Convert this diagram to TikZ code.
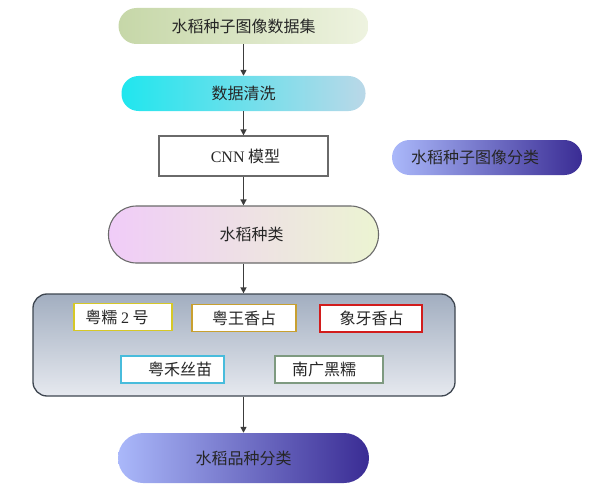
\documentclass[tikz,border=0pt]{standalone}
\usepackage{fontspec}
\setmainfont{Liberation Serif}
\newfontfamily\cjk{Noto Sans CJK SC}
\usetikzlibrary{arrows.meta}
\definecolor{arrowgray}{HTML}{3C3C3C}
\definecolor{gA}{HTML}{C6D7A8}
\definecolor{gB}{HTML}{EEF3E0}
\definecolor{cA}{HTML}{20E6EE}
\definecolor{cB}{HTML}{BAD8E8}
\definecolor{pA}{HTML}{F0CCF8}
\definecolor{pB}{HTML}{ECF4D2}
\definecolor{bA}{HTML}{AAB8FA}
\definecolor{bB}{HTML}{3A2C94}
\definecolor{kTop}{HTML}{A2AEC0}
\definecolor{kBot}{HTML}{E6E9EF}
\definecolor{kBorder}{HTML}{3E4650}
\definecolor{boxgray}{HTML}{6A6A6A}
\definecolor{yel}{HTML}{D6C828}
\definecolor{gold}{HTML}{C8A030}
\definecolor{redb}{HTML}{D21C1C}
\definecolor{cyanb}{HTML}{48BCDC}
\definecolor{greenb}{HTML}{7E9A80}
\tikzset{
  every node/.style={font=\fontsize{16}{18}\selectfont\cjk, text=black!85},
  pill/.style={rectangle, rounded corners=#1, inner sep=0pt},
  arr/.style={-{Triangle[length=6pt,width=6pt]}, draw=arrowgray, line width=1.6pt},
  var/.style={rectangle, fill=white, line width=1.8pt, minimum height=27pt, inner sep=0pt},
}
\begin{document}
\begin{tikzpicture}[x=1pt,y=-1pt]
\useasboundingbox (0,0) rectangle (600,495);
% top pill
\node[pill=18pt, left color=gA, right color=gB, minimum width=250pt, minimum height=36pt] (d1) at (243.5,26) {水稻种子图像数据集};
\node[pill=17pt, left color=cA, right color=cB, minimum width=244pt, minimum height=35pt] (d2) at (243.5,93.5) {数据清洗};
\node[rectangle, fill=white, draw=boxgray, line width=1.2pt, minimum width=169pt, minimum height=40pt, inner sep=0pt] (d3) at (243.5,156) {\hspace*{4pt}{\rmfamily CNN} 模型};
\node[pill=28pt, left color=pA, right color=pB, draw=boxgray, line width=1.1pt, minimum width=270pt, minimum height=57pt] (d4) at (243.5,234.5) {\hspace*{16pt}水稻种类};
% container
\node[pill=14pt, top color=kTop, bottom color=kBot, draw=kBorder, line width=1.3pt, minimum width=422pt, minimum height=102pt] (box) at (244,345) {};
\node[var, draw=yel, minimum width=98pt] (v1) at (123,317) {粤糯 {\rmfamily 2} 号\hspace*{12pt}};
\node[var, draw=gold, minimum width=104pt] (v2) at (244,318) {粤王香占};
\node[var, draw=redb, minimum width=102pt] (v3) at (371,318.5) {\hspace*{1pt}象牙香占};
\node[var, draw=cyanb, minimum width=103pt] (v4) at (172.5,369.5) {\hspace*{15pt}粤禾丝苗};
\node[var, draw=greenb, minimum width=108pt] (v5) at (329,369.5) {南广黑糯\hspace*{10pt}};
% bottom pill
\node[pill=25pt, left color=bA, right color=bB, minimum width=251pt, minimum height=50pt] (d5) at (243.5,458) {水稻品种分类};
% right pill
\node[pill=17.5pt, left color=bA, right color=bB, minimum width=190pt, minimum height=35pt] (side) at (487,157.5) {水稻种子图像分类\hspace*{24pt}};
% arrows
\draw[arr] (d1) -- (d2);
\draw[arr] (d2) -- (d3);
\draw[arr] (d3) -- (d4);
\draw[arr] (d4) -- (d4 |- box.north);
\draw[arr] (d5 |- box.south) -- (d5);
\end{tikzpicture}
\end{document}
